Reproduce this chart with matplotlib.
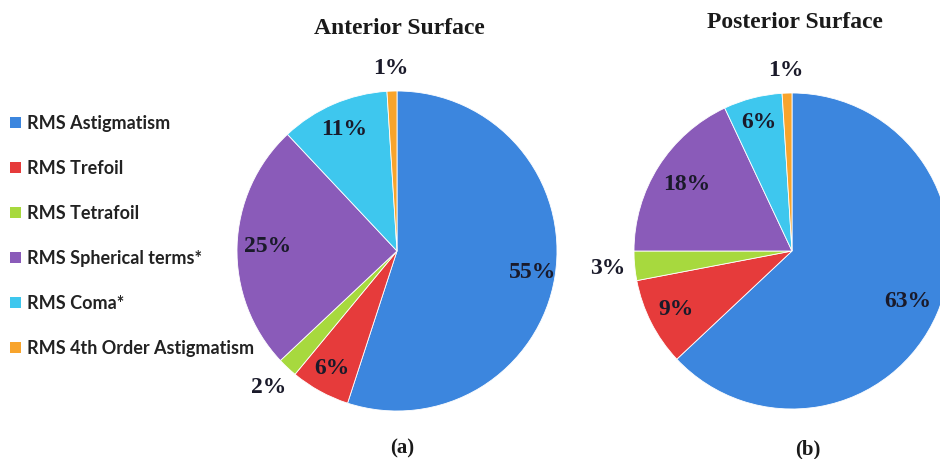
import numpy as np
import matplotlib
matplotlib.use("Agg")
import matplotlib.pyplot as plt

categories = ["RMS Astigmatism", "RMS Trefoil", "RMS Tetrafoil",
              "RMS Spherical terms*", "RMS Coma*", "RMS 4th Order Astigmatism"]
anterior = [55, 6, 2, 25, 11, 1]
posterior = [63, 9, 3, 18, 6, 1]
colors = ["#3C86DE", "#E63B3B", "#A7D93E", "#8A5BB9", "#3EC7EE", "#F8A42C"]

# label radius (in pie radii) for each slice: inside or outside the wedge
anterior_label_r = [0.86, 0.84, 1.17, 0.81, 0.83, 1.14]
posterior_label_r = [0.80, 0.82, 1.17, 0.79, 0.84, 1.14]

W, H = 940, 459
fig = plt.figure(figsize=(W / 100, H / 100), dpi=100)
fig.patch.set_facecolor("white")

serif = ["Liberation Serif", "DejaVu Serif"]


def pie_axes(cx, cy, r):
    return fig.add_axes([(cx - r) / W, (H - cy - r) / H, 2 * r / W, 2 * r / H])


def draw_pie(ax, values, label_r):
    wedges, _ = ax.pie(values, colors=colors, startangle=90, counterclock=False,
                       radius=1.0, center=(0, 0),
                       wedgeprops=dict(edgecolor="white", linewidth=0.6))
    for w, v, k in zip(wedges, values, label_r):
        ang = np.deg2rad((w.theta1 + w.theta2) / 2)
        ax.text(k * np.cos(ang), k * np.sin(ang), f"{v}%", ha="center", va="center",
                fontsize=17, fontweight="bold", family=serif, color="#1a1a2a")
    ax.set_xlim(-1, 1)
    ax.set_ylim(-1, 1)
    ax.set_aspect("equal")
    ax.axis("off")
    return wedges


ax1 = pie_axes(397, 251, 160)
wedges = draw_pie(ax1, anterior, anterior_label_r)
ax2 = pie_axes(792, 251, 158)
draw_pie(ax2, posterior, posterior_label_r)

fig.text(399 / W, 1 - 28 / H, "Anterior Surface", ha="center", va="center",
         fontsize=17, fontweight="bold", family=serif, color="#1a1a1a")
fig.text(795 / W, 1 - 22 / H, "Posterior Surface", ha="center", va="center",
         fontsize=17, fontweight="bold", family=serif, color="#1a1a1a")
fig.text(402 / W, 1 - 448 / H, "(a)", ha="center", va="center",
         fontsize=15, fontweight="bold", family=serif, color="#1a1a1a")
fig.text(808 / W, 1 - 449 / H, "(b)", ha="center", va="center",
         fontsize=15, fontweight="bold", family=serif, color="#1a1a1a")

leg = fig.legend(wedges, categories, loc="upper left",
                 bbox_to_anchor=(10 / W, 1 - 115 / H), frameon=False,
                 handlelength=0.6, handleheight=0.6, handletextpad=0.35,
                 labelspacing=1.55, borderpad=0, borderaxespad=0,
                 prop=dict(family=["Lato", "DejaVu Sans"], weight="bold", size=13))
for t in leg.get_texts():
    t.set_color("#222222")
for h in leg.legend_handles:
    h.set_edgecolor("none")

fig.savefig("out.png", dpi=100, facecolor="white")
